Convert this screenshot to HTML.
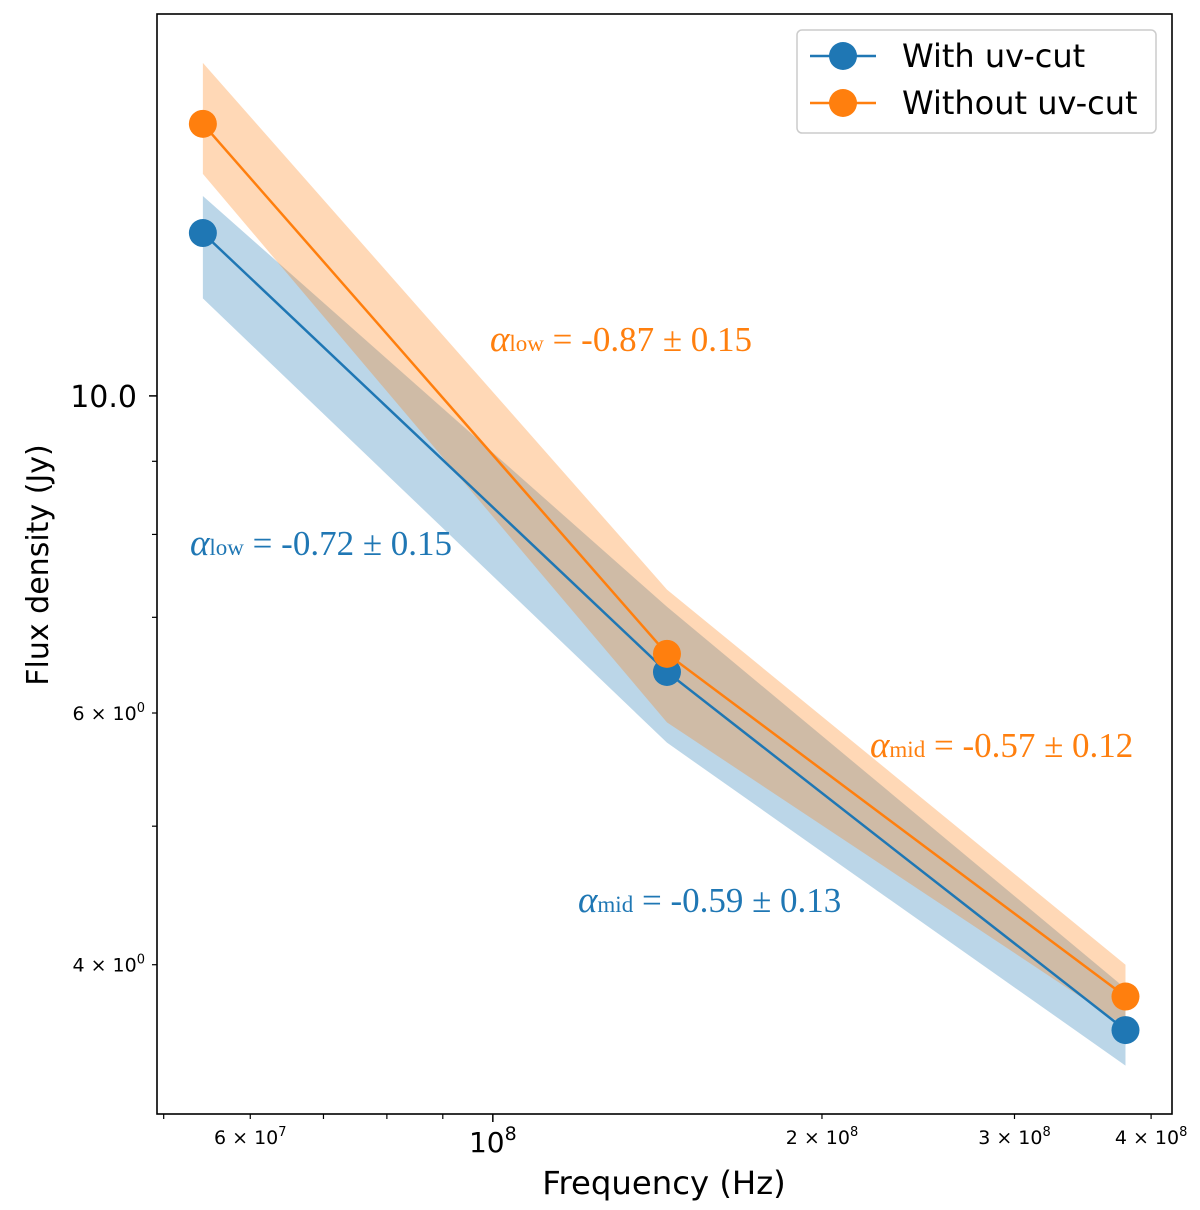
<!DOCTYPE html>
<html><head><meta charset="utf-8"><style>
html,body{margin:0;padding:0;background:#fff;}
svg{display:block;}
text{font-family:"DejaVu Sans","Liberation Sans",sans-serif;}
.ann{font-family:"Liberation Serif",serif;font-size:35px;}
.al{font-style:italic;font-size:37px;}
</style></head><body>
<svg id="chart" width="1200" height="1210" viewBox="0 0 1200 1210">
<g id="bands"></g><g id="lines"></g><g id="axes"></g>
<rect x="157" y="14" width="1015" height="1100" fill="none" stroke="#000" stroke-width="1.6"/>
<text x="664" y="1194" font-size="32.3" text-anchor="middle">Frequency (Hz)</text>
<text transform="translate(48,565) rotate(-90)" font-size="30" text-anchor="middle">Flux density (Jy)</text>
<text class="ann" x="490" y="351" fill="#ff7f0e"><tspan class="al">α</tspan><tspan font-size="23">low</tspan> = -0.87 ± 0.15</text>
<text class="ann" x="190" y="555" fill="#1f77b4"><tspan class="al">α</tspan><tspan font-size="23">low</tspan> = -0.72 ± 0.15</text>
<text class="ann" x="870" y="757" fill="#ff7f0e"><tspan class="al">α</tspan><tspan font-size="23">mid</tspan> = -0.57 ± 0.12</text>
<text class="ann" x="578" y="912" fill="#1f77b4"><tspan class="al">α</tspan><tspan font-size="23">mid</tspan> = -0.59 ± 0.13</text>
<g>
<rect x="797" y="30" width="359" height="103" rx="5" fill="#fff" fill-opacity="0.8" stroke="#ccc" stroke-width="1.5"/>
<g>
<line x1="810" y1="56" x2="876" y2="56" stroke="#1f77b4" stroke-width="2.5"/><circle cx="843" cy="56" r="14" fill="#1f77b4"/>
<text x="902" y="67" font-size="32">With uv-cut</text></g>
<g>
<line x1="810" y1="103" x2="876" y2="103" stroke="#ff7f0e" stroke-width="2.5"/><circle cx="843" cy="103" r="14" fill="#ff7f0e"/>
<text x="902" y="114" font-size="32">Without uv-cut</text></g>
</g>
</svg>
<script>
const freqs=[5.43e7,1.443e8,3.79e8];
const fluxWith=[13.0,6.41,3.60];
const withLow=[11.7,5.72,3.40];
const withHigh=[13.8,7.12,3.85];
const fluxWithout=[15.5,6.60,3.80];
const withoutLow=[14.3,5.91,3.62];
const withoutHigh=[17.1,7.32,4.0];
const xMajor=[1e8];
const xMinor=[5e7,6e7,7e7,8e7,9e7,2e8,3e8,4e8];
const xMinorLabels={6e7:"6",2e8:"2",3e8:"3",4e8:"4"};
const yMajor=[10];
const yMinor=[4,5,6,7,8,9];
const yMinorLabels={4:"4",6:"6"};
const NS="http://www.w3.org/2000/svg";
const X0=157,X1=1172,Y0=1114,Y1=14;
const xmin=Math.log10(4.93e7),xmax=Math.log10(4.18e8),ymin=Math.log10(3.145),ymax=Math.log10(18.5);
const sx=v=>X0+(Math.log10(v)-xmin)/(xmax-xmin)*(X1-X0);
const sy=v=>Y0-(Math.log10(v)-ymin)/(ymax-ymin)*(Y0-Y1);
function mk(tag,attrs,parent){const e=document.createElementNS(NS,tag);for(const k in attrs)e.setAttribute(k,attrs[k]);parent.appendChild(e);return e;}
const bands=document.getElementById('bands'),lines=document.getElementById('lines'),axes=document.getElementById('axes');
function band(lo,hi,color,name){
  let pts=freqs.map((f,i)=>sx(f)+','+sy(hi[i]));
  for(let i=freqs.length-1;i>=0;i--)pts.push(sx(freqs[i])+','+sy(lo[i]));
  const p=mk('polygon',{points:pts.join(' '),fill:color,'fill-opacity':0.3},bands);
  
  
}
band(withLow,withHigh,'#1f77b4','band-with-uvcut');
band(withoutLow,withoutHigh,'#ff7f0e','band-without-uvcut');
function series(vals,color,name){
  const pl=mk('polyline',{points:freqs.map((f,i)=>sx(f)+','+sy(vals[i])).join(' '),fill:'none',stroke:color,'stroke-width':2.5},lines);
  
  
  freqs.forEach((f,i)=>{const c=mk('circle',{cx:sx(f),cy:sy(vals[i]),r:14,fill:color},lines);
    
    });
}
series(fluxWith,'#1f77b4','with-uvcut');
series(fluxWithout,'#ff7f0e','without-uvcut');
xMajor.forEach(v=>{const x=sx(v);mk('line',{x1:x,x2:x,y1:Y0,y2:Y0+8,stroke:'#000','stroke-width':1.5},axes);
  const t=mk('text',{x:x,y:Y0+38,'font-size':28,'text-anchor':'middle'},axes);
  
  
  t.innerHTML='10<tspan dy="-12" font-size="19">8</tspan>';});
xMinor.forEach(v=>{const x=sx(v);mk('line',{x1:x,x2:x,y1:Y0,y2:Y0+5,stroke:'#000','stroke-width':1.2},axes);
  if(xMinorLabels[v]){const t=mk('text',{x:x,y:Y0+30,'font-size':19,'text-anchor':'middle'},axes);
    
    
    t.innerHTML=xMinorLabels[v]+' × 10<tspan dy="-8" font-size="13">'+Math.floor(Math.log10(v))+'</tspan>';}});
yMajor.forEach(v=>{const y=sy(v);mk('line',{x1:X0-8,x2:X0,y1:y,y2:y,stroke:'#000','stroke-width':1.5},axes);
  const t=mk('text',{x:X0-20,y:y+11,'font-size':30,'text-anchor':'end'},axes);
  
  
  t.textContent=v.toFixed(1);});
yMinor.forEach(v=>{const y=sy(v);mk('line',{x1:X0-5,x2:X0,y1:y,y2:y,stroke:'#000','stroke-width':1.2},axes);
  if(yMinorLabels[v]){const t=mk('text',{x:X0-12,y:y+7,'font-size':19,'text-anchor':'end'},axes);
    
    
    t.innerHTML=yMinorLabels[v]+' × 10<tspan dy="-8" font-size="13">0</tspan>';}});
</script>
</body></html>
